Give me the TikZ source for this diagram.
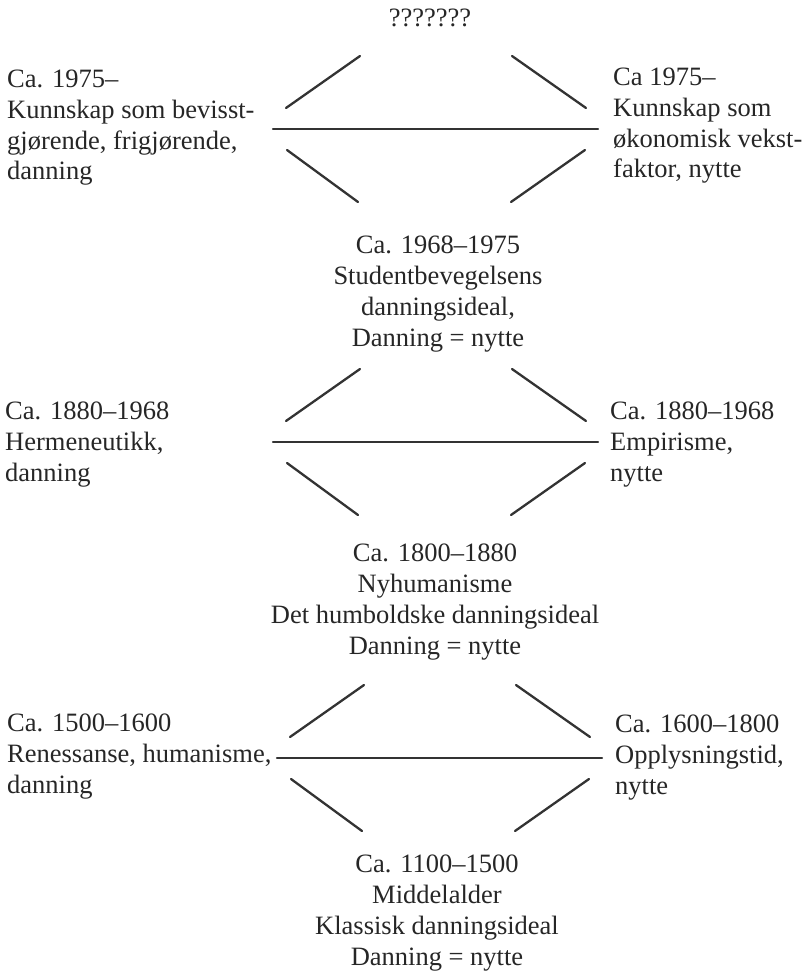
\documentclass[tikz,border=0pt]{standalone}
\usepackage{fontspec}
\setmainfont{Liberation Serif}
\usetikzlibrary{calc}
\tikzstyle{link}=[line width=2.3pt,draw=black!80,line cap=round]
\tikzstyle{period}=[inner sep=0pt,text=black!85,font=\fontsize{26.5}{30.8}\selectfont]
\newcommand{\drawlinks}[3][0]{
\pgfmathsetmacro{\dx}{#1} % small shift, the lowest diamond sits a bit to the right
\pgfmathsetmacro{\ybar}{#3}
\coordinate (#2ula) at (286+\dx,\ybar-21);
\coordinate (#2ulb) at (360+\dx,\ybar-73);
\coordinate (#2ura) at (512+\dx,\ybar-73);
\coordinate (#2urb) at (586+\dx,\ybar-21);
\coordinate (#2bla) at (273+\dx,\ybar);
\coordinate (#2blb) at (598+\dx,\ybar);
\coordinate (#2lla) at (287+\dx,\ybar+21);
\coordinate (#2llb) at (358+\dx,\ybar+73);
\coordinate (#2lra) at (511+\dx,\ybar+73);
\coordinate (#2lrb) at (585+\dx,\ybar+21);
\draw[link] (#2ula) -- (#2ulb);
\draw[link] (#2ura) -- (#2urb);
\draw[link] (#2bla) -- (#2blb);
\draw[link] (#2lla) -- (#2llb);
\draw[link] (#2lra) -- (#2lrb);
}

\begin{document}
\begin{tikzpicture}[x=1pt,y=-1pt]
\useasboundingbox (0,0) rectangle (804,973);

% the anchor base of a block is the baseline of its last line
\node[period,anchor=base] (open) at (430,27) {???????};

% 1975-
\node[period,align=left,anchor=base west] (leftA) at (7,180) {Ca. 1975--\\Kunnskap som bevisst-\\gjørende, frigjørende,\\danning};
\node[period,align=left,anchor=base west] (rightA) at (613,178) {Ca 1975--\\Kunnskap som\\økonomisk vekst-\\faktor, nytte};
\drawlinks{a}{129}
\node[period,align=center,anchor=base] (midA) at (438,346) {Ca. 1968--1975\\Studentbevegelsens\\danningsideal,\\Danning = nytte};

% 1880-1968
\node[period,align=left,anchor=base west] (leftB) at (5,481) {Ca. 1880--1968\\Hermeneutikk,\\danning};
\node[period,align=left,anchor=base west] (rightB) at (610,481) {Ca. 1880--1968\\Empirisme,\\nytte};
\drawlinks{b}{442}
\node[period,align=center,anchor=base] (midB) at (435,654) {Ca. 1800--1880\\Nyhumanisme\\Det humboldske danningsideal\\Danning = nytte};

% 1500-1800
\node[period,align=left,anchor=base west] (leftC) at (7,793) {Ca. 1500--1600\\Renessanse, humanisme,\\danning};
\node[period,align=left,anchor=base west] (rightC) at (615,794) {Ca. 1600--1800\\Opplysningstid,\\nytte};
\drawlinks[4]{c}{758}
\node[period,align=center,anchor=base] (midC) at (437,965) {Ca. 1100--1500\\Middelalder\\Klassisk danningsideal\\Danning = nytte};
\end{tikzpicture}
\end{document}
